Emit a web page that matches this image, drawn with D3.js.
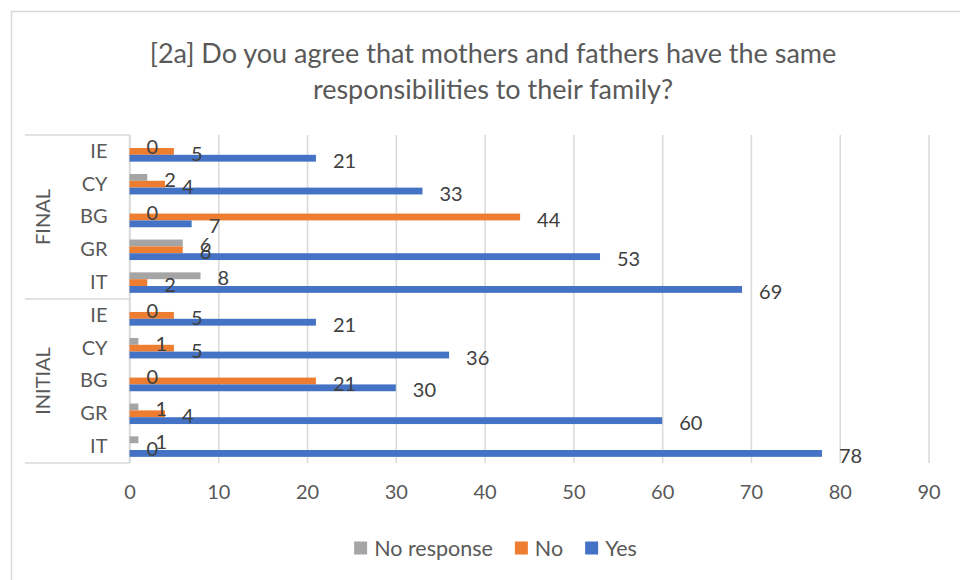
<!DOCTYPE html>
<html>
<head>
<meta charset="utf-8">
<script src="https://cdn.jsdelivr.net/npm/d3@7"></script>
<style>
  html, body { margin: 0; padding: 0; background: #fff; }
  svg { display: block; font-family: Lato, "Open Sans", sans-serif; }
</style>
</head>
<body>
<svg id="chart" width="960" height="580"></svg>
<script>
// Survey answers per country, for the final and initial rounds
const groups = ["FINAL", "INITIAL"];
const countries = ["IE", "CY", "BG", "GR", "IT"];
const seriesNames = ["No response", "No", "Yes"];
const seriesColors = ["#a5a5a5", "#ed7d31", "#4472c4"];
// values in row order: FINAL IE..IT, then INITIAL IE..IT
const noResponse = [0, 2, 0, 6, 8, 0, 1, 0, 1, 1];
const noValues   = [5, 4, 44, 6, 2, 5, 5, 21, 4, 0];
const yesValues  = [21, 33, 7, 53, 69, 21, 36, 30, 60, 78];
const xTicks = [0, 10, 20, 30, 40, 50, 60, 70, 80, 90];
const titleLines = [
  "[2a] Do you agree that mothers and fathers have the same",
  "responsibilities to their family?"
];

const seriesValues = [noResponse, noValues, yesValues];

const rows = [];
groups.forEach(g => countries.forEach(c => rows.push({ group: g, country: c, key: g + "-" + c })));
rows.forEach((r, i) => { r.values = seriesValues.map(s => s[i]); });

const svg = d3.select("#chart");
const plot = { left: 129.5, right: 928.5, top: 135, bottom: 463 };

const x = d3.scaleLinear().domain([0, 90]).range([plot.left, plot.right]);
const y = d3.scaleBand().domain(rows.map(r => r.key))
  .range([plot.top, plot.bottom]).paddingInner(0.375).paddingOuter(0.1875);
const inner = d3.scaleBand().domain(seriesNames).range([0, y.bandwidth()]);

// chart frame
svg.append("rect")
  .attr("x", 11.5).attr("y", 11.5).attr("width", 980).attr("height", 600)
  .attr("fill", "#fff").attr("stroke", "#d9d9d9").attr("stroke-width", 1.5);

// title
svg.append("text")
  .attr("text-anchor", "middle")
  .attr("fill", "#595959")
  .style("font-size", "27px")
  .selectAll("tspan").data(titleLines).join("tspan")
  .attr("x", 493)
  .attr("y", (d, i) => 52 + i * 36)
  .attr("dominant-baseline", "central")
  .text(d => d);

// vertical gridlines and value axis labels
const xAxis = svg.append("g")
  .attr("transform", `translate(0,${plot.bottom})`)
  .call(d3.axisBottom(x).tickValues(xTicks).tickSize(-(plot.bottom - plot.top)).tickPadding(22));
xAxis.select(".domain").remove();
xAxis.selectAll(".tick line").attr("stroke", "#d9d9d9").attr("stroke-width", 1.5);
xAxis.selectAll(".tick text")
  .attr("fill", "#595959").style("font-size", "20px").style("font-family", "Lato, sans-serif");

// category axis: country labels
const yAxis = svg.append("g")
  .attr("transform", `translate(${plot.left},0)`)
  .call(d3.axisLeft(y).tickSize(0).tickPadding(22).tickFormat(k => k.split("-")[1]));
yAxis.select(".domain").remove();
yAxis.selectAll(".tick text")
  .attr("fill", "#595959").style("font-size", "20px").style("font-family", "Lato, sans-serif");

// category axis line and group separators
const axisLines = svg.append("g").attr("stroke", "#d9d9d9").attr("stroke-width", 1.5);
axisLines.append("line")
  .attr("x1", plot.left).attr("x2", plot.left)
  .attr("y1", plot.top).attr("y2", plot.bottom);
const sepYs = [plot.top, y(rows[5].key) - y.step() * y.paddingInner() / 2, plot.bottom];
axisLines.selectAll(".sep").data(sepYs).join("line")
  .attr("class", "sep")
  .attr("x1", 25).attr("x2", plot.left)
  .attr("y1", d => d).attr("y2", d => d);

// group labels, rotated
groups.forEach(g => {
  const gr = rows.filter(r => r.group === g);
  const y0 = y(gr[0].key), y1 = y(gr[gr.length - 1].key) + y.bandwidth();
  const cy = (y0 + y1) / 2;
  svg.append("text")
    .attr("transform", `translate(42,${cy}) rotate(-90)`)
    .attr("text-anchor", "middle")
    .attr("dominant-baseline", "central")
    .attr("fill", "#595959")
    .style("font-size", "20px")
    .text(g);
});

// bars
const rowG = svg.append("g").selectAll("g").data(rows).join("g")
  .attr("transform", r => `translate(0,${y(r.key)})`);

rowG.selectAll("rect").data(r => r.values.map((v, i) => ({ v, i })))
  .join("rect")
  .attr("x", x(0))
  .attr("y", d => inner(seriesNames[d.i]))
  .attr("width", d => x(d.v) - x(0))
  .attr("height", inner.bandwidth())
  .attr("fill", d => seriesColors[d.i]);

// value labels at the outside end of each bar
rowG.selectAll("text").data(r => r.values.map((v, i) => ({ v, i })))
  .join("text")
  .attr("x", d => x(d.v) + 17)
  .attr("y", d => inner(seriesNames[d.i]) + inner.bandwidth() / 2 + 1.5)
  .attr("dominant-baseline", "central")
  .attr("fill", "#404040")
  .style("font-size", "20px")
  .text(d => d.v);

// legend
const legendItems = seriesNames.map((n, i) => ({ name: n, color: seriesColors[i] }));
const legend = svg.append("g").attr("transform", "translate(0,548)");
const legendStarts = [];
{
  // lay out items left to right, then centre the row
  let cursor = 0;
  const tmp = legend.append("g");
  legendItems.forEach((d, i) => {
    const t = tmp.append("text").style("font-size", "21.5px").text(d.name);
    const w = t.node().getComputedTextLength();
    legendStarts.push({ ...d, x: cursor, w });
    cursor += 13 + 7 + w + 22;
    t.remove();
  });
  tmp.remove();
  const total = cursor - 22;
  const offset = 495.5 - total / 2;
  const item = legend.selectAll("g.item").data(legendStarts).join("g")
    .attr("class", "item")
    .attr("transform", d => `translate(${offset + d.x},0)`);
  item.append("rect").attr("x", 0).attr("y", -6.5).attr("width", 13).attr("height", 13)
    .attr("fill", d => d.color);
  item.append("text").attr("x", 20).attr("y", 0)
    .attr("dominant-baseline", "central")
    .attr("fill", "#595959").style("font-size", "21.5px")
    .text(d => d.name);
}
</script>
</body>
</html>
